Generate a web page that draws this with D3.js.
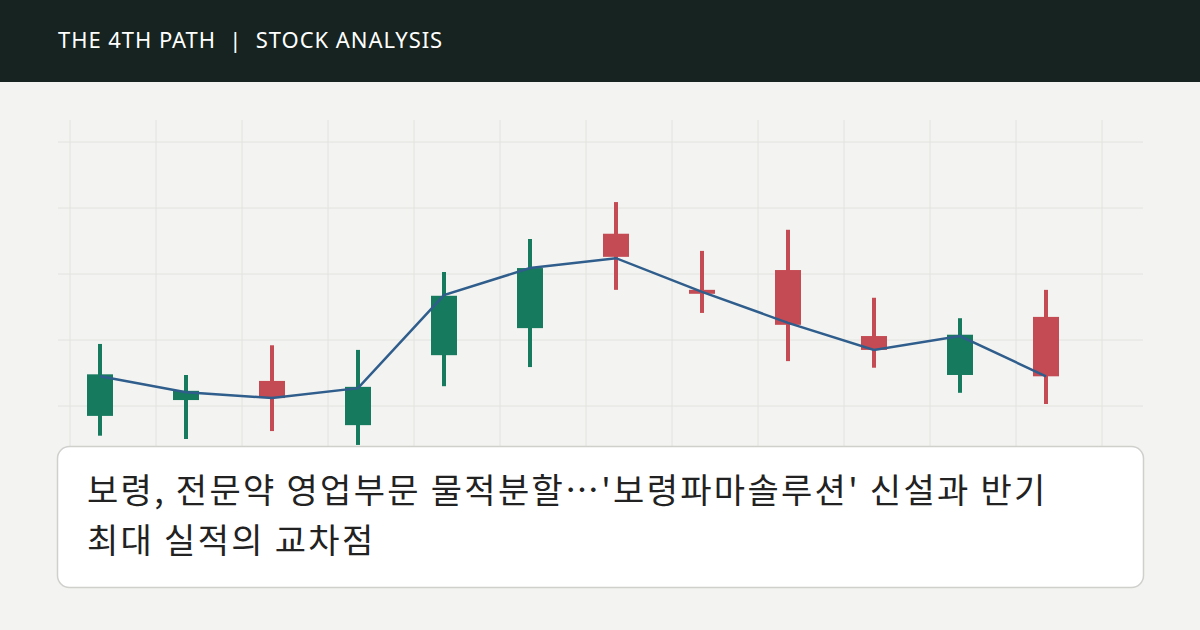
<!DOCTYPE html>
<html><head><meta charset="utf-8">
<script src="https://cdn.jsdelivr.net/npm/d3@7"></script>
<style>body{margin:0;background:#f3f3f1;}svg{display:block;}</style>
</head><body><svg width="1200" height="630"></svg>
<script>
const opens  = [104.8,102.3,101.2,102.9,116.7,120.9,122.6,117.0,112.3,108.5,110.8,104.5];
const closes = [98.5,100.9,103.8,97.1,107.7,111.8,126.1,117.6,120.6,110.6,104.7,113.5];
const highs  = [109.4,104.7,109.2,108.5,120.3,125.3,130.9,123.5,126.7,116.4,113.3,117.6];
const lows   = [95.5,95.0,96.2,94.1,103.0,105.9,117.6,114.1,106.8,105.8,102.0,100.3];
const lineVals = [104.5,102.1,101.2,102.7,116.8,120.9,122.4,117.3,112.6,108.5,110.6,104.5];
const yTicks = [100,110,120,130,140];
const titleLines = ["보령, 전문약 영업부문 물적분할…'보령파마솔루션' 신설과 반기","최대 실적의 교차점"];
const headerText = "THE 4TH PATH  |  STOCK ANALYSIS";

const svg = d3.select("svg");
const font = "'Noto Sans CJK KR','Noto Sans',sans-serif";
const x = d3.scaleLinear().domain([0,11]).range([100,1046]);
const y = d3.scaleLinear().domain([100,140]).range([406,142]);

svg.append("g").selectAll("line").data(d3.range(13)).join("line")
  .attr("x1",i=>x(i)-30).attr("x2",i=>x(i)-30).attr("y1",120).attr("y2",446)
  .attr("stroke","#e2e2df").attr("stroke-width",1);
svg.append("g").selectAll("line").data(yTicks).join("line")
  .attr("x1",58).attr("x2",1143).attr("y1",d=>y(d)).attr("y2",d=>y(d))
  .attr("stroke","#e2e2df").attr("stroke-width",1);

const idx = d3.range(opens.length);
const col = i => closes[i]>=opens[i] ? "#c44b53" : "#167a5f";
const g = svg.append("g");
g.selectAll(".w").data(idx).join("line")
  .attr("x1",i=>x(i)).attr("x2",i=>x(i)).attr("y1",i=>y(highs[i])).attr("y2",i=>y(lows[i]))
  .attr("stroke",col).attr("stroke-width",4);
g.selectAll(".b").data(idx).join("rect")
  .attr("x",i=>x(i)-13).attr("width",26)
  .attr("y",i=>y(Math.max(opens[i],closes[i])))
  .attr("height",i=>Math.max(3,Math.abs(y(opens[i])-y(closes[i]))))
  .attr("fill",col);
svg.append("path").datum(lineVals)
  .attr("d",d3.line().x((d,i)=>x(i)).y(d=>y(d)))
  .attr("fill","none").attr("stroke","#2f5d8c").attr("stroke-width",2.5);

svg.append("rect").attr("x",0).attr("y",0).attr("width",1200).attr("height",82).attr("fill","#162320");
svg.append("text").attr("x",58).attr("y",48).attr("fill","#fff").attr("font-family","'Noto Sans',sans-serif")
  .attr("font-size",22).attr("letter-spacing",0.95).style("white-space","pre").text(headerText);

svg.append("rect").attr("x",57.5).attr("y",446.5).attr("width",1086).attr("height",141).attr("rx",12)
  .attr("fill","#fff").attr("stroke","#cfcfcc").attr("stroke-width",1.5);
svg.append("g").selectAll("text").data(titleLines).join("text")
  .attr("x",87).attr("y",(d,i)=>503+i*50).attr("fill","#222").attr("font-family",font)
  .attr("font-size",34).attr("letter-spacing",2.3).text(d=>d);
</script></body></html>
